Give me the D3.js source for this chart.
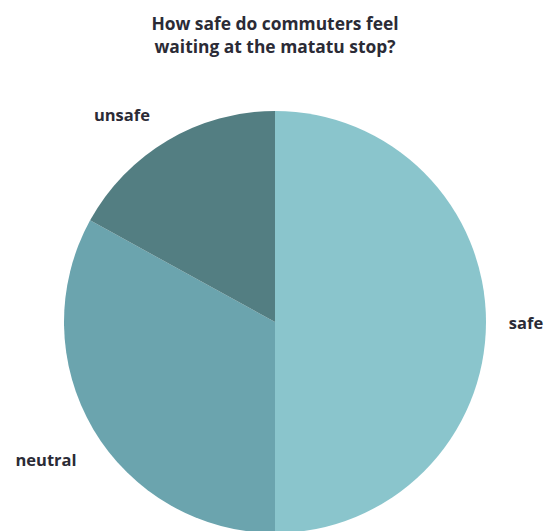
<!doctype html>
<html lang="en">
<head>
  <meta charset="utf-8">
  <title>Matatu stop safety</title>
  <script type="text/javascript" src="https://cdnjs.cloudflare.com/ajax/libs/d3/7.8.5/d3.min.js"></script>
  <style>
    body { margin: 0; background: #fff; }
    text { font-family: "Open Sans", sans-serif; font-weight: 700; fill: #2b2b36; }
  </style>
</head>
<body>
  <svg width="557" height="531" id="svg"></svg>

<script type="text/javascript">

	// percentage of commuters per answer
	var categories = ['safe', 'neutral', 'unsafe'];
	var values = [50, 33, 17];
	var colors = ['#8ac5cc', '#6ba4ae', '#537e82'];
	var titleLines = ['How safe do commuters feel', 'waiting at the matatu stop?'];

	var cx = 275, cy = 322, radius = 211;

	var svg = d3.select('#svg');

	var color = d3.scaleOrdinal()
		.domain(categories)
		.range(colors);

	var data = categories.map(function(c, i) { return {name: c, value: values[i]}; });

	var pie = d3.pie()
		.sort(null)
		.value(function(d) { return d.value; });

	var arc = d3.arc()
		.innerRadius(0)
		.outerRadius(radius);

	var g = svg.append('g')
		.attr('transform', 'translate(' + cx + ',' + cy + ')');

	g.selectAll('path')
		.data(pie(data))
		.enter().append('path')
		.attr('d', arc)
		.attr('fill', function(d) { return color(d.data.name); });

	/* labels sit outside the pie: angle (radians from 12 o'clock) and distance from the centre */
	var labelAngle = { safe: 1.58, neutral: 4.166, unsafe: 5.645 };
	var labelDist = { safe: 251, neutral: 268, unsafe: 257 };

	g.selectAll('text.label')
		.data(pie(data))
		.enter().append('text')
		.attr('class', 'label')
		.attr('text-anchor', 'middle')
		.attr('font-size', 16.5)
		.attr('x', function(d) {
			return Math.sin(labelAngle[d.data.name]) * labelDist[d.data.name];
		})
		.attr('y', function(d) {
			return -Math.cos(labelAngle[d.data.name]) * labelDist[d.data.name] + 5;
		})
		.text(function(d) { return d.data.name; });

	svg.selectAll('text.title')
		.data(titleLines)
		.enter().append('text')
		.attr('class', 'title')
		.attr('x', 275)
		.attr('y', function(d, i) { return 30 + i * 23; })
		.attr('text-anchor', 'middle')
		.attr('font-size', 17.4)
		.text(function(d) { return d; });

</script>
</body>
</html>
